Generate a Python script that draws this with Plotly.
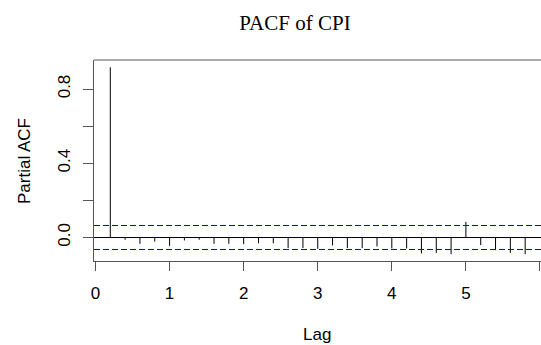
import plotly.graph_objects as go

# ---- data ----
lags = [0.2, 0.4, 0.6, 0.8, 1.0, 1.2, 1.4, 1.6, 1.8, 2.0,
        2.2, 2.4, 2.6, 2.8, 3.0, 3.2, 3.4, 3.6, 3.8, 4.0,
        4.2, 4.4, 4.6, 4.8, 5.0, 5.2, 5.4, 5.6, 5.8]
pacf = [0.917, -0.012, -0.034, -0.022, -0.045, -0.016, -0.012, -0.034, -0.034, -0.036,
        -0.031, -0.031, -0.057, -0.057, -0.061, -0.043, -0.057, -0.057, -0.048, -0.059,
        -0.059, -0.086, -0.083, -0.090, 0.084, -0.041, -0.068, -0.083, -0.090]
ci = 0.0647
x_ticks = [0, 1, 2, 3, 4, 5, 6]
y_ticks = [0.0, 0.2, 0.4, 0.6, 0.8]
y_ticktext = ["0.0", "", "0.4", "", "0.8"]

W, H = 541, 345
L, T, B, R = 94, 60, 84, 0
XR = [-0.0202, 6.0137]

xs, ys = [], []
for lag, v in zip(lags, pacf):
    xs += [lag, lag, None]
    ys += [0, v, None]

fig = go.Figure()
# zero line
fig.add_trace(go.Scatter(x=XR, y=[0, 0], mode="lines",
                         line=dict(color="black", width=1),
                         hoverinfo="skip", showlegend=False))
fig.add_trace(go.Scatter(x=xs, y=ys, mode="lines",
                         line=dict(color="black", width=1),
                         hoverinfo="skip", showlegend=False))
# confidence bounds
for c in (ci, -ci):
    fig.add_trace(go.Scatter(x=XR, y=[c, c], mode="lines",
                             line=dict(color="rgb(0,0,255)", width=1, dash="6px,3px"),
                             hoverinfo="skip", showlegend=False))

SANS = "Liberation Sans, Arial, sans-serif"
fig.update_layout(
    width=W, height=H,
    margin=dict(l=L, r=R, t=T, b=B, pad=0, autoexpand=False),
    paper_bgcolor="white", plot_bgcolor="white",
    showlegend=False,
    font=dict(family=SANS, size=17, color="black"),
    title=dict(text="PACF of CPI", xref="container", yref="container",
               x=295 / W, xanchor="center", y=1 - 23 / H, yanchor="middle",
               automargin=False,
               font=dict(family="Liberation Serif, Times New Roman, serif", size=21, color="black")),
    xaxis=dict(range=XR, tickmode="array", tickvals=x_ticks,
               ticktext=[str(t) for t in x_ticks], automargin=False,
               showgrid=False, zeroline=False, showline=True, linecolor="#555", linewidth=1,
               ticks="outside", ticklen=9, tickcolor="#555", tickwidth=1,
               ticklabelstandoff=8,
               tickfont=dict(family=SANS, size=17, color="black")),
    yaxis=dict(range=[-0.1266, 0.9564], tickmode="array", tickvals=y_ticks, ticktext=y_ticktext,
               automargin=False,
               showgrid=False, zeroline=False, showline=True, linecolor="#555", linewidth=1,
               ticks="outside", ticklen=10, tickcolor="#555", tickwidth=1,
               tickangle=-90, ticklabelstandoff=6,
               tickfont=dict(family=SANS, size=17, color="black")),
)

# top border of the box
fig.add_shape(type="line", xref="paper", yref="paper", x0=0, x1=1, y0=1, y1=1,
              line=dict(color="#555", width=1))

plot_w = W - L - R
plot_h = H - T - B
fig.add_annotation(text="Lag", xref="paper", yref="paper",
                   x=(316.7 - L) / plot_w, y=-(334 - (T + plot_h)) / plot_h,
                   xanchor="center", yanchor="middle", showarrow=False,
                   font=dict(family=SANS, size=17, color="black"))
fig.add_annotation(text="Partial ACF", xref="paper", yref="paper",
                   x=(24 - L) / plot_w, y=(T + plot_h - 161) / plot_h,
                   xanchor="center", yanchor="middle", textangle=-90, showarrow=False,
                   font=dict(family=SANS, size=17, color="black"))

fig.write_html("out.html", config={"displayModeBar": False},
               post_script="document.body.style.margin='0';document.body.style.overflow='hidden';")
